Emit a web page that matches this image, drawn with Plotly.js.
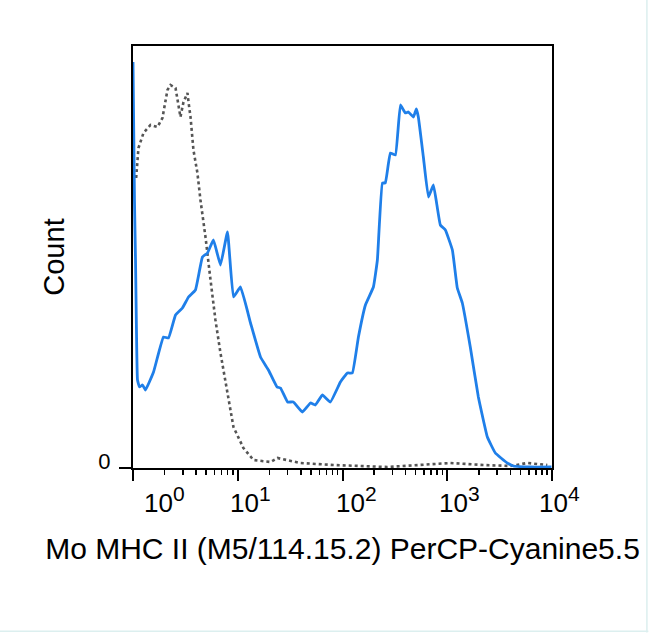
<!DOCTYPE html>
<html>
<head>
<meta charset="utf-8">
<script src="https://cdn.plot.ly/plotly-3.0.1.min.js"></script>
<style>
  html, body { margin: 0; padding: 0; background: #fff; }
  #myDiv { width: 650px; height: 634px; }
</style>
</head>
<body>
<div id="myDiv"></div>
<script>
// stained sample (blue), position in decades and count
var blueDecade = [0.000, 0.014, 0.024, 0.033, 0.043, 0.062, 0.091, 0.119, 0.196, 0.291,
                  0.339, 0.406, 0.472, 0.530, 0.596, 0.663, 0.711, 0.768, 0.835, 0.902,
                  0.959, 1.026, 1.122, 1.217, 1.293, 1.375, 1.408, 1.476, 1.531, 1.617,
                  1.694, 1.741, 1.808, 1.884, 1.980, 2.047, 2.094, 2.152, 2.219, 2.295,
                  2.333, 2.381, 2.409, 2.457, 2.505, 2.553, 2.600, 2.629, 2.677, 2.705,
                  2.724, 2.772, 2.820, 2.868, 2.934, 2.982, 3.049, 3.096, 3.144, 3.220,
                  3.297, 3.383, 3.459, 3.573, 3.631, 3.793, 3.995];
var blueCount  = [406, 268, 208, 138, 88, 81, 83, 78, 96, 131,
                  130, 153, 160, 171, 178, 211, 215, 228, 203, 236,
                  171, 181, 145, 111, 98, 81, 80, 66, 66, 56,
                  65, 63, 73, 66, 86, 95, 95, 131, 163, 181,
                  208, 285, 285, 315, 313, 363, 355, 356, 351, 359,
                  351, 311, 271, 283, 243, 238, 218, 180, 165, 121,
                  71, 31, 15, 5, 2, 1, 1];

// isotype control (gray dotted)
var grayDecade = [0.030, 0.043, 0.052, 0.100, 0.167, 0.234, 0.281, 0.329, 0.358, 0.406,
                  0.434, 0.453, 0.482, 0.520, 0.530, 0.549, 0.577, 0.615, 0.644, 0.692,
                  0.740, 0.787, 0.835, 0.902, 0.959, 1.054, 1.150, 1.312, 1.379, 1.598,
                  1.913, 2.429, 2.715, 3.029, 3.344, 3.602, 3.765, 3.955];
var grayCount  = [290, 305, 320, 335, 343, 341, 350, 378, 383, 380,
                  361, 351, 366, 375, 366, 351, 318, 295, 268, 231,
                  188, 148, 115, 75, 41, 20, 8, 6, 10, 5,
                  3, 1, 3, 5, 3, 2, 5, 3];

var majorTicks = [1, 10, 100, 1000, 10000];
var majorExp = ['0', '1', '2', '3', '4'];
var minorTicks = [2, 3, 4, 5, 6, 7, 8, 9,
                  20, 30, 40, 50, 60, 70, 80, 90,
                  200, 300, 400, 500, 600, 700, 800, 900,
                  2000, 3000, 4000, 5000, 6000, 7000, 8000, 9000];

var fontFam = 'Arial, "Liberation Sans", sans-serif';

function toValues(dec) {
  var out = [];
  for (var i = 0; i < dec.length; i++) out.push(Math.pow(10, dec[i]));
  return out;
}

var data = [
  {
    x: toValues(grayDecade), y: grayCount,
    mode: 'lines', type: 'scatter', name: 'Isotype',
    line: { color: '#555555', width: 2.6, dash: 'dot', shape: 'linear' }
  },
  {
    x: toValues(blueDecade), y: blueCount,
    mode: 'lines', type: 'scatter', name: 'MHC II',
    line: { color: '#1f7fe9', width: 2.8, shape: 'spline', smoothing: 0.3 }
  }
];

// tick labels 10^n placed by hand next to the ticks
var annots = [];
var shifts = [9, -10, -9, -10, -15];
for (var k = 0; k < majorTicks.length; k++) {
  annots.push({
    x: k, xref: 'x', y: 0, yref: 'paper',
    xanchor: 'left', yanchor: 'top', xshift: shifts[k], yshift: -12,
    text: '10<sup><span style="font-size:21px">' + majorExp[k] + '</span></sup>',
    showarrow: false, font: { family: fontFam, size: 26, color: '#000' }
  });
}

var layout = {
  width: 650, height: 634,
  margin: { l: 133, r: 98, t: 46, b: 166 },
  paper_bgcolor: '#fff', plot_bgcolor: '#fff',
  showlegend: false,
  font: { family: fontFam, color: '#000' },
  xaxis: {
    type: 'log', range: [0, 4],
    showline: true, linecolor: '#000', linewidth: 2, mirror: true,
    showgrid: false, zeroline: false,
    tickmode: 'array', tickvals: majorTicks, showticklabels: false,
    ticks: 'outside', ticklen: 11, tickwidth: 2, tickcolor: '#000',
    minor: { tickmode: 'array', tickvals: minorTicks, ticks: 'outside',
             ticklen: 5, tickwidth: 1.5, tickcolor: '#000', showgrid: false },
    title: { text: 'Mo MHC II (M5/114.15.2) PerCP-Cyanine5.5',
             font: { family: fontFam, size: 30, color: '#000' }, standoff: 58 }
  },
  yaxis: {
    range: [0, 422],
    showline: true, linecolor: '#000', linewidth: 2, mirror: true,
    showgrid: false, zeroline: false,
    tickmode: 'array', tickvals: [0], ticktext: ['0'],
    ticks: 'outside', ticklen: 12, tickwidth: 2, tickcolor: '#000',
    ticklabelshift: -7, ticklabelstandoff: 4,
    tickfont: { family: fontFam, size: 22, color: '#000' },
    title: { text: 'Count', font: { family: fontFam, size: 29, color: '#000' }, standoff: 25 }
  },
  annotations: annots,
  shapes: [
    { type: 'line', xref: 'paper', yref: 'paper', x0: 1.2265, x1: 1.2265, y0: -0.39, y1: 1.11,
      line: { color: '#dcefef', width: 1.5 } },
    { type: 'line', xref: 'paper', yref: 'paper', x0: -0.32, x1: 1.23, y0: -0.387, y1: -0.387,
      line: { color: '#dcefef', width: 1.5 } }
  ]
};

Plotly.newPlot('myDiv', data, layout, { displayModeBar: false, staticPlot: true });
</script>
</body>
</html>
